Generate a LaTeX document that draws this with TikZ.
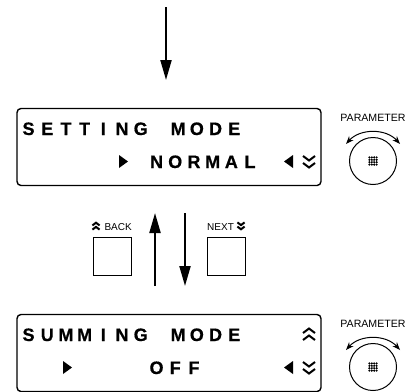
\documentclass[tikz,border=0pt]{standalone}
\usepackage{fontspec}
\setmainfont{Liberation Sans}
\newfontfamily\lcdfont[FakeBold=0.6]{Liberation Sans Bold}
\usetikzlibrary{arrows.meta}

% fixed pitch letters of the display
\def\lcdnext#1{\ifx#1\relax\else\makebox[18.7pt]{#1}\expandafter\lcdnext\fi}
\newcommand{\lcd}[1]{\lcdfont\fontsize{18pt}{18pt}\selectfont\lcdnext#1\relax}

\tikzset{
	display/.style={draw, line width=1.4pt, rounded corners=4pt, minimum width=304pt, minimum height=77pt, inner sep=0pt},
	lcdtext/.style={anchor=base west, inner sep=0pt},
	small/.style={inner sep=0pt, font=\fontsize{10.6pt}{11pt}\selectfont},
	btnlabel/.style={inner sep=0pt, font=\fontsize{10pt}{11pt}\selectfont},
	knob/.style={draw, circle, line width=1pt, minimum size=47pt, inner sep=0pt},
	button/.style={draw, line width=1pt, minimum size=38pt, inner sep=0pt},
	flow/.style={line width=2.1pt, -{Triangle[length=20pt,width=11pt]}},
	turn/.style={line width=1pt, {Stealth[length=8pt,width=6pt]}-{Stealth[length=8pt,width=6pt]}},
	pics/chevdown/.style={code={
		\draw[line width=2pt] (-6,-6) -- (0,-1.5) -- (6,-6);
		\draw[line width=2pt] (-6,1) -- (0,5.5) -- (6,1);
	}},
	pics/chevup/.style={code={
		\draw[line width=2pt] (-6,-1) -- (0,-5.5) -- (6,-1);
		\draw[line width=2pt] (-6,6) -- (0,1.5) -- (6,6);
	}}
}

\begin{document}
\begin{tikzpicture}[x=1pt,y=-1pt]
	\useasboundingbox (0,0) rectangle (411,391);

	% displays
	\node[display] (disp1) at (169,147) {};
	\node[display] (disp2) at (169,353) {};

	\node[lcdtext] (mode1) at (19,135) {\lcd{SETTING~MODE}};
	\node[lcdtext] (val1) at (147,168) {\lcd{NORMAL}};
	\node[lcdtext] (mode2) at (19,341) {\lcd{SUMMING~MODE}};
	\node[lcdtext] (val2) at (147,374) {\lcd{OFF}};

	% cursor triangles
	\fill (119,155) -- (128,161.5) -- (119,168) -- cycle;
	\fill (293,155) -- (284,161.5) -- (293,168) -- cycle;
	\fill (63,361) -- (72,367.5) -- (63,374) -- cycle;
	\fill (293,361) -- (284,367.5) -- (293,374) -- cycle;

	\pic at (309,162) {chevdown};
	\pic at (309,368) {chevdown};
	\pic at (309,334) {chevup};

	% knobs
	\foreach \i / \y in {1/161, 2/367}
	{
		\node[knob] (knob\i) at (373,\y) {};
		\node[small] (param\i) at (373,\y-43) {PARAMETER};
		\coordinate (turnL\i) at (346,\y-17);
		\coordinate (turnR\i) at (400,\y-17);
		\draw[turn] (turnL\i) to[bend left=48] (turnR\i);
		\foreach \a in {-3.6,-1.2,1.2,3.6}
		{
			\foreach \b in {-3.6,-1.2,1.2,3.6}
			{
				\fill (373+\a,\y+\b) circle [radius=1.2pt];
			};
		};
	};

	% buttons
	\node[button] (back) at (112,256) {};
	\node[button] (next) at (226,256) {};
	\node[btnlabel, anchor=base east] (backlab) at (132,230) {BACK};
	\node[btnlabel, anchor=base west] (nextlab) at (207,230) {NEXT};
	\pic[scale=0.6] at (96,226) {chevup};
	\pic[scale=0.6] at (241,226) {chevdown};

	% flow arrows
	\coordinate (top1) at (166,7);
	\coordinate (top2) at (166,80);
	\coordinate (up1) at (155,286);
	\coordinate (up2) at (155,213);
	\coordinate (down1) at (185,213);
	\coordinate (down2) at (185,286);
	\foreach \i / \j in {top1/top2, up1/up2, down1/down2}
	{
		\draw[flow] (\i) -- (\j);
	};
\end{tikzpicture}
\end{document}
